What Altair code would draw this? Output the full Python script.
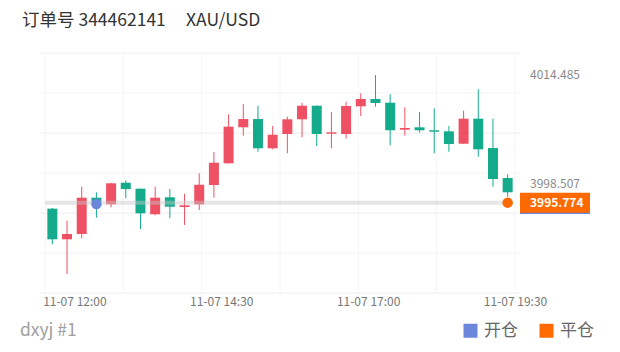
import altair as alt
import pandas as pd

# ---------------- data ----------------
title_order = "订单号 344462141"
title_symbol = "XAU/USD"
footer_text = "dxyj #1"

times = ["11:30", "11:45", "12:00", "12:15", "12:30", "12:45", "13:00", "13:15",
         "13:30", "13:45", "14:00", "14:15", "14:30", "14:45", "15:00", "15:15",
         "15:30", "15:45", "16:00", "16:15", "16:30", "16:45", "17:00", "17:15",
         "17:30", "17:45", "18:00", "18:15", "18:30", "18:45", "19:00", "19:15"]
opens = [3994.89, 3990.40, 3991.18, 3996.50, 3995.53, 3998.70, 3997.82, 3994.07,
         3996.56, 3995.13, 3995.53, 3998.36, 4001.54, 4006.82, 4008.03, 4003.74,
         4005.84, 4007.99, 4009.98, 4005.88, 4005.84, 4009.90, 4010.97, 4010.42,
         4006.47, 4006.82, 4006.38, 4006.23, 4004.41, 4008.08, 4003.78, 3999.39]
highs = [3994.99, 3993.13, 3998.11, 3997.29, 3998.65, 3999.05, 3997.85, 3998.11,
         3997.77, 3997.08, 4000.08, 4003.20, 4008.72, 4010.23, 4009.98, 4007.01,
         4008.37, 4010.42, 4010.02, 4009.06, 4010.57, 4011.80, 4014.485, 4011.66,
         4009.75, 4009.06, 4009.60, 4007.01, 4009.25, 4012.39, 4008.08, 3999.93]
lows = [3989.67, 3985.31, 3990.55, 3993.57, 3995.09, 3996.41, 3991.91, 3993.92,
        3993.48, 3992.50, 3994.69, 3996.50, 4001.50, 4005.59, 4003.24, 4003.59,
        4003.01, 4005.35, 4004.08, 4003.74, 4005.15, 4008.47, 4009.84, 4004.18,
        4005.59, 4006.03, 4003.01, 4003.24, 4004.38, 4002.51, 3998.11, 3996.65]
closes = [3990.40, 3991.18, 3996.50, 3995.87, 3998.61, 3997.77, 3994.21, 3996.50,
          3995.18, 3995.38, 3998.40, 4001.63, 4006.91, 4008.03, 4003.74, 4005.73,
          4007.99, 4009.98, 4005.84, 4006.09, 4009.94, 4010.97, 4010.38, 4006.38,
          4006.72, 4006.38, 4006.17, 4004.37, 4008.08, 4003.59, 3999.24, 3997.29]

axis_start = "11:30"
axis_end = "19:30"
candle_minutes = 15

x_tick_times = ["12:00", "14:30", "17:00", "19:30"]
x_tick_labels = ["11-07 12:00", "11-07 14:30", "11-07 17:00", "11-07 19:30"]
x_grid_times = ["11:30", "12:50", "14:10", "15:30", "16:50", "18:10", "19:30"]

y_domain = [3982.53, 4017.71]
y_grid = [3982.53, 3988.39, 3994.26, 4000.12, 4005.98, 4011.85, 4017.71]

side_label_values = [4014.485, 3998.507]

trade_kinds = ["开仓", "平仓"]
trade_times = ["12:15", "19:15"]
trade_prices = [3995.58, 3995.774]
close_price_text = "3995.774"

# ---------------- styles ----------------
RED = "#ef5164"
GREEN = "#14ab8d"
BLUE = "#6a87dc"
ORANGE = "#ff6a00"
GRID = "#f4f4f4"
FONT = "Noto Sans CJK SC"


def minutes(hhmm):
    h, m = hhmm.split(":")
    return int(h) * 60 + int(m) - (int(axis_start[:2]) * 60 + int(axis_start[3:]))


candles = pd.DataFrame({
    "t": [minutes(t) + candle_minutes / 2 for t in times],
    "open": opens, "high": highs, "low": lows, "close": closes,
})

x_scale = alt.Scale(domain=[0, minutes(axis_end)], nice=False, zero=False)
y_scale = alt.Scale(domain=y_domain, nice=False, zero=False)

label_expr = " : ".join(
    f"datum.value == {minutes(t)} ? '{lab}'" for t, lab in zip(x_tick_times, x_tick_labels)
) + " : ''"

x_axis = alt.Axis(values=[minutes(t) for t in x_tick_times], labelExpr=label_expr,
                  grid=False, ticks=False, domain=False, labelFontSize=12,
                  labelColor="#777777", labelFont=FONT, labelPadding=3,
                  labelFlush=False, labelOverlap=False, title=None)
y_axis = alt.Axis(values=y_grid, grid=True, gridColor=GRID, labels=False,
                  ticks=False, domain=False, title=None, orient="right")

color_cond = alt.condition("datum.close >= datum.open", alt.value(RED), alt.value(GREEN))

xgrid = alt.Chart(pd.DataFrame({"g": [minutes(t) for t in x_grid_times]})).mark_rule(
    color=GRID, strokeWidth=1).encode(
    x=alt.X("g:Q", scale=x_scale, axis=x_axis),
    y=alt.value(0), y2=alt.value(240))

ygrid = alt.Chart(pd.DataFrame({"g": y_grid})).mark_rule(
    color=GRID, strokeWidth=1).encode(
    y=alt.Y("g:Q", scale=y_scale, axis=y_axis),
    x=alt.value(0), x2=alt.value(480))

wicks = alt.Chart(candles).mark_rule(strokeWidth=1).encode(
    x=alt.X("t:Q", scale=x_scale, axis=x_axis),
    y=alt.Y("low:Q", scale=y_scale, axis=y_axis),
    y2="high:Q",
    color=color_cond)

bodies = alt.Chart(candles).mark_bar(size=10).encode(
    x=alt.X("t:Q", scale=x_scale),
    y=alt.Y("open:Q", scale=y_scale),
    y2="close:Q",
    color=color_cond)

band = alt.Chart(pd.DataFrame({"x0": [0], "x1": [candles["t"].iloc[-1]],
                               "p": [trade_prices[1]]})).mark_rule(
    strokeWidth=4, color="#c8c8c8", opacity=0.45).encode(
    x=alt.X("x0:Q", scale=x_scale), x2="x1:Q",
    y=alt.Y("p:Q", scale=y_scale))

trades = pd.DataFrame({"kind": trade_kinds,
                       "t": [minutes(t) + candle_minutes / 2 for t in trade_times],
                       "p": trade_prices})

kind_color = alt.Color(
    "kind:N", scale=alt.Scale(domain=trade_kinds, range=[BLUE, ORANGE]),
    legend=alt.Legend(title=None, orient="none", legendX=422, legendY=269,
                      direction="horizontal", symbolType="square",
                      symbolSize=196, symbolStrokeWidth=0, symbolOpacity=1,
                      labelFontSize=17, labelColor="#666666", labelFont=FONT,
                      columnPadding=20, labelOffset=5))

points = alt.Chart(trades).mark_point(filled=True, opacity=1, size=110, shape="circle").encode(
    x=alt.X("t:Q", scale=x_scale),
    y=alt.Y("p:Q", scale=y_scale),
    color=kind_color)

box_cond = alt.condition(f"datum.kind == '{trade_kinds[0]}'", alt.value(BLUE), alt.value(ORANGE))
boxes = alt.Chart(trades).mark_rule(strokeWidth=20, strokeCap="butt").encode(
    x=alt.value(480), x2=alt.value(550),
    y=alt.Y("p:Q", scale=y_scale),
    color=box_cond)

box_text = alt.Chart(pd.DataFrame({"p": [trade_prices[1]], "s": [close_price_text]})).mark_text(
    align="left", baseline="middle", fontSize=12, fontWeight="bold", color="white",
    font=FONT).encode(
    x=alt.value(490), y=alt.Y("p:Q", scale=y_scale), text="s:N")

side_labels = alt.Chart(pd.DataFrame({"p": side_label_values,
                                      "s": [f"{v:.3f}" for v in side_label_values]})).mark_text(
    align="left", baseline="middle", fontSize=12, color="#8a8a8a", font=FONT).encode(
    x=alt.value(490), y=alt.Y("p:Q", scale=y_scale), text="s:N")

title1 = alt.Chart(pd.DataFrame({"s": [title_order]})).mark_text(
    align="left", baseline="middle", fontSize=17.5, color="#333333", font=FONT).encode(
    x=alt.value(-18), y=alt.value(-32), text="s:N")
title2 = alt.Chart(pd.DataFrame({"s": [title_symbol]})).mark_text(
    align="left", baseline="middle", fontSize=17.5, color="#333333", font=FONT).encode(
    x=alt.value(146), y=alt.value(-32), text="s:N")
footer = alt.Chart(pd.DataFrame({"s": [footer_text]})).mark_text(
    align="left", baseline="middle", fontSize=17.5, color="#a0a0a0", font=FONT).encode(
    x=alt.value(-20), y=alt.value(278), text="s:N")

chart = alt.layer(
    xgrid, ygrid, wicks, bodies, band, boxes, points, box_text, side_labels,
    title1, title2, footer
).properties(
    width=480, height=240,
    padding={"left": 40, "top": 53, "right": 100, "bottom": 59},
    autosize=alt.AutoSizeParams(type="none"),
    background="white",
).configure_view(stroke=None)

chart.save("out.html", embed_options={"renderer": "svg", "actions": False})
